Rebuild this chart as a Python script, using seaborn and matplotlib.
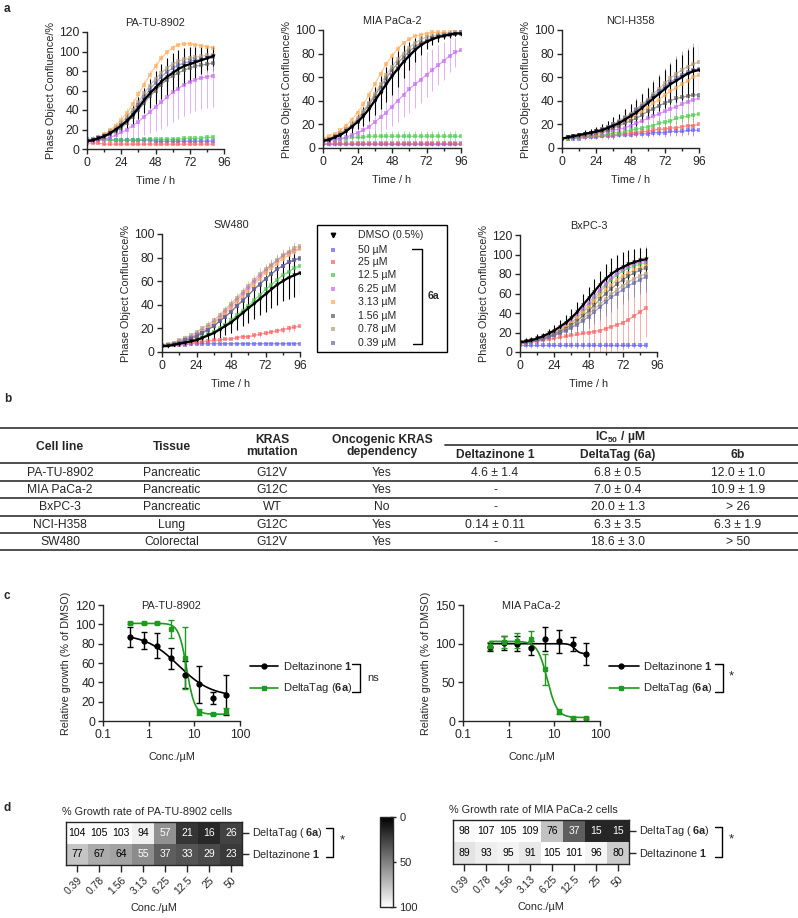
import numpy as np
import pandas as pd
import matplotlib
matplotlib.use("Agg")
import matplotlib.pyplot as plt
from matplotlib.patches import Rectangle
from matplotlib.ticker import MultipleLocator, NullLocator
import seaborn as sns

sns.set_style("ticks")
plt.rcParams['font.family'] = ['Liberation Sans', 'DejaVu Sans']
plt.rcParams['mathtext.fontset'] = 'custom'
plt.rcParams['mathtext.rm'] = 'Liberation Sans'
plt.rcParams['mathtext.bf'] = 'Liberation Sans:bold'
plt.rcParams['mathtext.it'] = 'Liberation Sans:italic'
plt.rcParams['font.size'] = 7.5
plt.rcParams['axes.linewidth'] = 1.0

# ---------------- data: panel a (growth curves) ----------------
series_labels = ["DMSO (0.5%)", "50 µM", "25 µM", "12.5 µM", "6.25 µM",
                 "3.13 µM", "1.56 µM", "0.78 µM", "0.39 µM"]
series_colors = ["black", "#5a5aff", "#ff5a5a", "#46c846", "#c864f0",
                 "#ffa850", "#5a5a5a", "#b49b78", "#6464aa"]

hours_88 = [0, 4, 8, 12, 16, 20, 24, 28, 32, 36, 40, 44, 48, 52, 56, 60, 64, 68, 72, 76, 80, 84, 88]
hours_96 = [0, 4, 8, 12, 16, 20, 24, 28, 32, 36, 40, 44, 48, 52, 56, 60, 64, 68, 72, 76, 80, 84, 88, 92, 96]

# rows follow series_labels order
patu_mean = [
    [8, 9, 11, 13, 16, 20, 24, 29, 35, 42, 50, 57, 63, 69, 74, 78, 82, 85, 87, 89, 91, 93, 95],
    [10, 10, 10, 10, 10, 9, 9, 9, 9, 9, 9, 9, 8, 8, 8, 8, 8, 8, 8, 8, 8, 8, 8],
    [6, 6, 6, 5, 5, 5, 5, 5, 5, 5, 5, 5, 5, 5, 5, 5, 5, 5, 5, 5, 5, 5, 5],
    [9, 9, 9, 9, 9, 9, 9, 9, 9, 9, 10, 10, 10, 10, 10, 10, 10, 11, 11, 11, 11, 12, 12],
    [7, 8, 9, 10, 12, 14, 17, 20, 24, 28, 33, 38, 43, 48, 53, 58, 62, 66, 69, 71, 73, 74, 75],
    [9, 10, 12, 15, 19, 24, 30, 37, 46, 56, 66, 76, 85, 93, 99, 104, 107, 108, 108, 107, 106, 105, 104],
    [8, 9, 10, 12, 15, 18, 22, 27, 33, 40, 47, 54, 60, 66, 71, 75, 78, 81, 83, 85, 86, 87, 88],
    [9, 10, 12, 14, 18, 22, 27, 33, 40, 48, 57, 65, 72, 78, 83, 87, 90, 92, 93, 94, 95, 96, 96],
    [8, 9, 11, 13, 16, 20, 25, 30, 37, 45, 53, 61, 68, 74, 79, 83, 86, 88, 90, 91, 92, 93, 94],
]
patu_sd = [
    [2, 2, 3, 3, 4, 5, 6, 7, 9, 11, 13, 15, 17, 18, 19, 20, 20, 19, 18, 16, 14, 12, 10],
    [3, 3, 3, 3, 3, 3, 3, 3, 3, 3, 3, 3, 3, 3, 3, 3, 3, 3, 3, 3, 3, 3, 3],
    [1, 1, 1, 1, 1, 1, 1, 1, 1, 1, 1, 1, 1, 1, 1, 1, 1, 1, 1, 1, 1, 1, 1],
    [2, 2, 2, 2, 2, 2, 2, 2, 2, 2, 2, 2, 2, 2, 2, 2, 2, 2, 2, 2, 2, 2, 2],
    [2, 2, 3, 4, 5, 7, 9, 11, 13, 16, 19, 22, 25, 27, 29, 30, 31, 32, 32, 32, 32, 32, 32],
    [2, 2, 3, 3, 4, 4, 5, 5, 5, 5, 5, 5, 4, 4, 3, 3, 2, 2, 2, 2, 2, 2, 2],
    [2, 2, 2, 3, 3, 4, 5, 6, 7, 8, 9, 10, 10, 10, 10, 10, 10, 9, 9, 8, 8, 8, 8],
    [2, 2, 2, 3, 3, 3, 4, 4, 5, 5, 5, 5, 5, 5, 4, 4, 4, 3, 3, 3, 3, 3, 3],
    [2, 2, 2, 2, 3, 3, 3, 4, 4, 4, 5, 5, 5, 5, 5, 4, 4, 4, 4, 3, 3, 3, 3],
]

mia_mean = [
    [6, 7, 9, 11, 14, 18, 22, 27, 33, 40, 47, 54, 61, 67, 73, 78, 83, 87, 90, 92, 94, 95, 96, 97, 97],
    [3, 3, 3, 3, 3, 3, 3, 3, 3, 3, 3, 3, 3, 3, 3, 3, 3, 3, 3, 3, 3, 3, 3, 3, 3],
    [4, 4, 4, 4, 4, 4, 4, 4, 4, 4, 4, 4, 4, 4, 4, 4, 4, 4, 4, 4, 4, 4, 4, 4, 4],
    [6, 7, 7, 8, 8, 9, 9, 9, 10, 10, 10, 10, 10, 10, 10, 10, 10, 10, 10, 10, 10, 10, 10, 10, 10],
    [5, 6, 7, 8, 9, 11, 13, 15, 18, 22, 26, 30, 35, 40, 45, 50, 54, 58, 62, 66, 70, 74, 78, 81, 83],
    [8, 10, 12, 15, 19, 24, 30, 37, 45, 54, 63, 71, 78, 84, 89, 92, 95, 96, 97, 98, 98, 98, 98, 98, 98],
    [7, 8, 10, 12, 15, 19, 24, 30, 37, 44, 52, 59, 66, 72, 77, 82, 86, 89, 91, 93, 94, 95, 96, 97, 97],
    [7, 8, 10, 13, 16, 20, 25, 31, 38, 46, 54, 62, 69, 75, 80, 85, 89, 92, 94, 95, 96, 97, 97, 98, 98],
    [6, 7, 9, 11, 14, 18, 22, 27, 34, 41, 48, 55, 62, 68, 74, 79, 84, 88, 91, 93, 95, 96, 97, 97, 98],
]
mia_sd = [
    [1, 1, 2, 3, 4, 5, 6, 8, 10, 12, 14, 15, 16, 15, 14, 12, 10, 8, 6, 5, 4, 3, 3, 2, 2],
    [1, 1, 1, 1, 1, 1, 1, 1, 1, 1, 1, 1, 1, 1, 1, 1, 1, 1, 1, 1, 1, 1, 1, 1, 1],
    [1, 1, 1, 1, 1, 1, 1, 1, 1, 1, 1, 1, 1, 1, 1, 1, 1, 1, 1, 1, 1, 1, 1, 1, 1],
    [2, 2, 3, 3, 3, 3, 4, 4, 4, 4, 4, 4, 4, 4, 4, 4, 4, 4, 4, 4, 4, 4, 4, 4, 4],
    [1, 1, 2, 2, 3, 4, 5, 6, 8, 10, 12, 14, 16, 18, 19, 20, 20, 20, 19, 18, 17, 16, 14, 12, 10],
    [1, 1, 1, 2, 2, 2, 3, 3, 3, 3, 3, 3, 3, 3, 2, 2, 2, 2, 2, 2, 2, 2, 2, 2, 2],
    [1, 1, 1, 2, 2, 3, 3, 4, 5, 6, 7, 8, 8, 8, 7, 6, 5, 4, 3, 3, 3, 2, 2, 2, 2],
    [1, 1, 1, 2, 2, 2, 3, 3, 4, 4, 5, 5, 5, 5, 4, 4, 3, 3, 3, 2, 2, 2, 2, 2, 2],
    [1, 1, 1, 2, 2, 2, 3, 3, 4, 4, 5, 5, 5, 5, 4, 4, 3, 3, 3, 2, 2, 2, 2, 2, 2],
]

nci_mean = [
    [8, 9, 10, 11, 12, 13, 14, 15, 17, 19, 21, 24, 27, 30, 34, 38, 42, 46, 50, 54, 57, 60, 63, 65, 66],
    [8, 8, 8, 8, 9, 9, 9, 10, 10, 10, 11, 11, 11, 12, 12, 12, 13, 13, 13, 14, 14, 14, 15, 15, 15],
    [8, 8, 9, 9, 9, 10, 10, 10, 11, 11, 12, 12, 13, 13, 14, 14, 15, 16, 16, 17, 17, 18, 19, 19, 20],
    [8, 8, 9, 9, 10, 10, 11, 11, 12, 13, 13, 14, 15, 16, 17, 18, 19, 21, 22, 23, 25, 26, 27, 28, 29],
    [8, 9, 9, 10, 10, 11, 12, 13, 14, 15, 16, 17, 19, 21, 23, 25, 27, 29, 31, 33, 35, 37, 39, 41, 42],
    [8, 9, 10, 10, 11, 12, 13, 14, 16, 18, 20, 22, 25, 28, 31, 34, 38, 41, 45, 48, 51, 54, 57, 60, 62],
    [8, 9, 9, 10, 11, 12, 13, 14, 15, 17, 19, 21, 23, 25, 28, 31, 33, 36, 38, 40, 42, 43, 44, 45, 45],
    [8, 9, 10, 11, 12, 13, 14, 16, 18, 20, 23, 26, 29, 33, 37, 41, 46, 50, 55, 59, 63, 66, 69, 71, 73],
    [8, 9, 10, 11, 12, 13, 14, 16, 18, 20, 22, 25, 28, 32, 36, 40, 44, 48, 52, 56, 59, 62, 64, 66, 67],
]
nci_sd = [
    [1, 1, 2, 2, 3, 3, 4, 5, 6, 7, 8, 9, 10, 11, 12, 13, 14, 15, 16, 17, 18, 19, 20, 21, 22],
    [1, 1, 1, 1, 1, 1, 1, 1, 2, 2, 2, 2, 2, 3, 3, 3, 3, 3, 4, 4, 4, 4, 4, 5, 5],
    [1, 1, 1, 1, 2, 2, 2, 2, 3, 3, 3, 3, 4, 4, 4, 5, 5, 5, 6, 6, 6, 7, 7, 8, 8],
    [1, 1, 1, 1, 1, 2, 2, 2, 2, 2, 3, 3, 3, 3, 3, 4, 4, 4, 4, 5, 5, 5, 5, 6, 6],
    [1, 1, 1, 1, 2, 2, 2, 3, 3, 3, 3, 4, 4, 4, 5, 5, 5, 6, 6, 6, 7, 7, 7, 8, 8],
    [1, 1, 1, 2, 2, 2, 3, 3, 4, 4, 5, 5, 6, 7, 7, 8, 9, 10, 10, 11, 12, 12, 13, 13, 14],
    [1, 1, 1, 1, 2, 2, 2, 2, 3, 3, 3, 3, 4, 4, 4, 4, 5, 5, 5, 5, 5, 5, 5, 5, 5],
    [1, 1, 1, 2, 2, 2, 3, 3, 4, 4, 5, 6, 6, 7, 8, 9, 10, 11, 12, 12, 13, 14, 14, 15, 15],
    [1, 1, 2, 2, 2, 3, 3, 4, 5, 6, 7, 8, 9, 10, 11, 12, 14, 15, 16, 17, 19, 20, 21, 23, 24],
]

sw_mean = [
    [5, 5, 6, 7, 8, 9, 10, 12, 14, 16, 19, 22, 25, 29, 33, 37, 41, 45, 49, 53, 57, 60, 63, 65, 67],
    [6, 6, 6, 6, 6, 7, 7, 7, 7, 7, 7, 7, 7, 7, 7, 7, 7, 7, 7, 7, 7, 7, 7, 7, 7],
    [5, 6, 6, 7, 7, 8, 8, 9, 9, 10, 10, 11, 11, 12, 13, 13, 14, 15, 16, 17, 18, 19, 20, 21, 22],
    [5, 6, 7, 8, 9, 10, 11, 13, 15, 17, 20, 23, 27, 31, 35, 39, 44, 48, 53, 57, 61, 65, 68, 71, 73],
    [5, 6, 7, 9, 11, 13, 15, 18, 21, 25, 29, 34, 39, 44, 49, 54, 59, 64, 69, 73, 77, 81, 84, 86, 88],
    [5, 6, 7, 8, 10, 12, 14, 17, 20, 24, 28, 32, 37, 42, 47, 52, 57, 62, 67, 71, 75, 79, 82, 85, 87],
    [5, 6, 7, 8, 10, 11, 13, 16, 19, 22, 26, 30, 34, 39, 43, 48, 53, 57, 62, 66, 70, 73, 76, 78, 80],
    [6, 7, 8, 10, 12, 14, 17, 20, 23, 27, 31, 36, 41, 46, 51, 56, 61, 66, 70, 74, 78, 82, 85, 88, 90],
    [5, 6, 7, 8, 10, 12, 14, 16, 19, 22, 26, 30, 34, 39, 44, 48, 53, 58, 62, 66, 70, 73, 76, 78, 79],
]
sw_sd = [
    [1, 1, 1, 2, 2, 3, 3, 4, 5, 6, 7, 8, 9, 10, 11, 12, 13, 14, 15, 16, 17, 17, 18, 18, 18],
    [1, 1, 1, 1, 1, 1, 1, 1, 1, 1, 1, 1, 1, 1, 1, 1, 1, 1, 1, 1, 1, 1, 1, 1, 1],
    [1, 1, 1, 1, 1, 1, 1, 1, 1, 1, 1, 1, 1, 2, 2, 2, 2, 2, 2, 2, 2, 3, 3, 3, 3],
    [1, 1, 1, 1, 2, 2, 2, 3, 3, 4, 4, 5, 5, 6, 6, 7, 7, 8, 8, 9, 9, 10, 10, 10, 10],
    [1, 1, 1, 1, 2, 2, 2, 2, 3, 3, 3, 3, 4, 4, 4, 4, 4, 5, 5, 5, 5, 5, 5, 5, 5],
    [1, 1, 1, 1, 2, 2, 2, 2, 3, 3, 3, 3, 4, 4, 4, 4, 4, 5, 5, 5, 5, 5, 5, 5, 5],
    [1, 1, 1, 2, 2, 2, 3, 3, 4, 4, 5, 5, 6, 6, 7, 7, 8, 8, 8, 9, 9, 9, 9, 9, 9],
    [1, 1, 1, 1, 2, 2, 2, 2, 3, 3, 3, 3, 4, 4, 4, 4, 4, 5, 5, 5, 5, 5, 5, 5, 5],
    [1, 1, 1, 2, 2, 2, 3, 3, 3, 4, 4, 5, 5, 5, 6, 6, 6, 7, 7, 7, 7, 7, 7, 7, 7],
]

bx_mean = [
    [10, 11, 12, 14, 16, 19, 22, 26, 30, 35, 41, 48, 55, 62, 69, 75, 80, 84, 87, 90, 92, 94, 95],
    [7, 7, 7, 7, 7, 7, 7, 7, 7, 7, 7, 7, 7, 7, 7, 7, 7, 7, 7, 7, 7, 7, 7],
    [8, 9, 10, 11, 12, 13, 14, 15, 16, 17, 18, 19, 20, 21, 22, 24, 26, 28, 30, 33, 37, 41, 45],
    [9, 10, 11, 12, 14, 16, 19, 22, 26, 30, 35, 41, 47, 54, 61, 68, 74, 79, 83, 86, 88, 90, 91],
    [9, 10, 11, 13, 15, 17, 20, 24, 28, 33, 38, 44, 50, 57, 64, 70, 76, 81, 85, 88, 90, 92, 93],
    [9, 10, 11, 12, 14, 16, 19, 22, 26, 30, 35, 40, 46, 52, 58, 64, 69, 74, 78, 81, 84, 86, 88],
    [9, 10, 11, 12, 14, 16, 18, 21, 24, 28, 32, 37, 42, 48, 54, 60, 65, 70, 74, 78, 81, 84, 86],
    [9, 10, 11, 12, 13, 15, 17, 20, 23, 26, 30, 34, 39, 44, 49, 54, 59, 64, 68, 72, 75, 78, 80],
    [9, 10, 11, 12, 13, 15, 17, 19, 22, 25, 28, 32, 36, 41, 46, 51, 56, 60, 64, 68, 71, 74, 77],
]
bx_sd = [
    [3, 3, 3, 4, 4, 5, 6, 7, 8, 9, 10, 11, 12, 13, 14, 15, 16, 16, 16, 15, 14, 13, 12],
    [3, 3, 3, 3, 3, 3, 3, 3, 3, 3, 3, 3, 3, 3, 3, 3, 3, 3, 3, 3, 3, 3, 3],
    [2, 2, 3, 3, 4, 5, 6, 8, 10, 12, 14, 16, 18, 20, 22, 24, 26, 27, 28, 29, 30, 30, 30],
    [2, 2, 2, 3, 3, 4, 5, 6, 7, 8, 9, 10, 11, 12, 13, 14, 15, 16, 17, 18, 18, 18, 18],
    [2, 2, 2, 3, 3, 4, 4, 5, 6, 7, 8, 9, 10, 11, 12, 12, 13, 13, 13, 13, 13, 13, 13],
    [2, 2, 2, 3, 3, 4, 4, 5, 6, 7, 8, 9, 10, 11, 12, 12, 12, 12, 12, 12, 12, 12, 12],
    [2, 2, 2, 3, 3, 4, 4, 5, 6, 7, 8, 9, 10, 11, 12, 12, 12, 12, 12, 12, 12, 12, 12],
    [2, 2, 2, 3, 3, 4, 5, 6, 7, 8, 9, 10, 11, 12, 13, 14, 15, 15, 15, 15, 15, 15, 15],
    [2, 2, 2, 3, 3, 4, 5, 6, 7, 8, 9, 10, 11, 12, 13, 14, 15, 15, 15, 15, 15, 15, 15],
]

# ---------------- data: panel b (table) ----------------
cell_lines = ["PA-TU-8902", "MIA PaCa-2", "BxPC-3", "NCI-H358", "SW480"]
tissues = ["Pancreatic", "Pancreatic", "Pancreatic", "Lung", "Colorectal"]
mutations = ["G12V", "G12C", "WT", "G12C", "G12V"]
dependency = ["Yes", "Yes", "No", "Yes", "Yes"]
ic50_dz = ["4.6 ± 1.4", "-", "-", "0.14 ± 0.11", "-"]
ic50_6a = ["6.8 ± 0.5", "7.0 ± 0.4", "20.0 ± 1.3", "6.3 ± 3.5", "18.6 ± 3.0"]
ic50_6b = ["12.0 ± 1.0", "10.9 ± 1.9", "> 26", "6.3 ± 1.9", "> 50"]

# ---------------- data: panel c (dose response) ----------------
conc = [0.39, 0.78, 1.56, 3.13, 6.25, 12.5, 25, 50]
patu_dz = [87, 83, 78, 65, 48, 38, 24, 27]
patu_dz_sd = [10, 9, 13, 11, 14, 19, 6, 21]
patu_6a = [101, 101, 101, 95, 65, 9, 7, 10]
patu_6a_sd = [1, 1, 1, 9, 32, 3, 1, 3]
mia_dz = [96, 101, 100, 94, 106, 103, 99, 87]
mia_dz_sd = [5, 9, 10, 9, 15, 15, 9, 14]
mia_6a = [97, 102, 104, 106, 67, 12, 4, 4]
mia_6a_sd = [5, 8, 10, 10, 20, 3, 1, 1]
# fitted 4PL parameters: top, bottom, IC50, hill
patu_dz_fit = [90, 25, 4.5, 1.2]
patu_6a_fit = [101, 7, 6.8, 5.0]
mia_dz_fit = [100, 87, 28, 8.0]
mia_6a_fit = [103, 4.5, 7.0, 4.0]

# ---------------- data: panel d (heatmaps) ----------------
conc_labels = ["0.39", "0.78", "1.56", "3.13", "6.25", "12.5", "25", "50"]
row_labels = ["DeltaTag ( $\\bf{6a}$)", "Deltazinone $\\bf{1}$"]
patu_heat = [[104, 105, 103, 94, 57, 21, 16, 26],
             [77, 67, 64, 55, 37, 33, 29, 23]]
mia_heat = [[98, 107, 105, 109, 76, 37, 15, 15],
            [89, 93, 95, 91, 105, 101, 96, 80]]

# ---------------- layout ----------------
W, H = 798, 918
fig = plt.figure(figsize=(W / 100, H / 100), dpi=100)
TICK_FS = 8.7
LAB_FS = 7.8


def px_axes(l, t, r, b):
    return fig.add_axes([l / W, 1 - b / H, (r - l) / W, (b - t) / H])


def style_axes(ax):
    sns.despine(ax=ax)
    ax.tick_params(which='major', length=3.5, width=1.0, labelsize=TICK_FS, pad=2)
    ax.tick_params(which='minor', length=2.2, width=1.0)


def growth_panel(ax, hours, means, sds, title, ymax):
    for i in range(1, 9):
        ax.errorbar(hours, means[i], yerr=sds[i], fmt='-s', color=series_colors[i],
                    ms=2.8, mew=0, lw=0.9, elinewidth=0.6, capsize=1.6,
                    capthick=0.6, alpha=0.6)
    ax.errorbar(hours, means[0], yerr=sds[0], fmt='-v', color='black', ms=3,
                mew=0, lw=1.6, elinewidth=0.8, capsize=1.8, capthick=0.8)
    ax.set_xlim(0, 96)
    ax.set_ylim(0, ymax)
    ax.set_xticks([0, 24, 48, 72, 96])
    ax.xaxis.set_minor_locator(MultipleLocator(12))
    ax.yaxis.set_major_locator(MultipleLocator(20))
    ax.set_xlabel("Time / h", fontsize=LAB_FS, labelpad=5)
    ax.set_ylabel("Phase Object Confluence/%", fontsize=LAB_FS, labelpad=2)
    ax.set_title(title, fontsize=7.8, pad=4)
    style_axes(ax)


growth_panel(px_axes(87, 32, 224, 149), hours_88, patu_mean, patu_sd, "PA-TU-8902", 120)
growth_panel(px_axes(323, 30, 461, 148), hours_96, mia_mean, mia_sd, "MIA PaCa-2", 100)
growth_panel(px_axes(562, 30, 699, 148), hours_96, nci_mean, nci_sd, "NCI-H358", 100)
growth_panel(px_axes(162, 234, 300, 352), hours_96, sw_mean, sw_sd, "SW480", 100)
growth_panel(px_axes(520, 235, 657, 352), hours_88, bx_mean, bx_sd, "BxPC-3", 120)


# ---------------- panel c ----------------
def logistic(x, p):
    top, bottom, ic50, hill = p
    return bottom + (top - bottom) / (1 + (x / ic50) ** hill)


def dose_panel(ax, dz, dz_sd, d6a, d6a_sd, fit_dz, fit_6a, title, ymax, ystep):
    xs = np.logspace(np.log10(conc[0]), np.log10(conc[-1]), 200)
    ax.plot(xs, logistic(xs, fit_dz), color='black', lw=1.2)
    ax.plot(xs, logistic(xs, fit_6a), color='#1e9a1e', lw=1.2)
    ax.errorbar(conc, dz, yerr=dz_sd, fmt='o', color='black', ms=3.5,
                elinewidth=1.0, capsize=2.2, capthick=1.0)
    ax.errorbar(conc, d6a, yerr=d6a_sd, fmt='s', color='#1e9a1e', ms=3.5,
                elinewidth=1.0, capsize=2.2, capthick=1.0)
    ax.set_xscale('log')
    ax.set_xlim(0.1, 100)
    ax.set_xticks([0.1, 1, 10, 100])
    ax.set_xticklabels(["0.1", "1", "10", "100"])
    ax.xaxis.set_minor_locator(NullLocator())
    ax.set_ylim(0, ymax)
    ax.yaxis.set_major_locator(MultipleLocator(ystep))
    ax.set_xlabel("Conc./µM", fontsize=LAB_FS, labelpad=8)
    ax.set_ylabel("Relative growth (% of DMSO)", fontsize=LAB_FS, labelpad=3)
    ax.text(0.5, 0.99, title, transform=ax.transAxes, ha='center', va='center', fontsize=7.8)
    style_axes(ax)


dose_panel(px_axes(103, 605, 240, 721), patu_dz, patu_dz_sd, patu_6a, patu_6a_sd,
           patu_dz_fit, patu_6a_fit, "PA-TU-8902", 120, 20)
dose_panel(px_axes(463, 605, 600, 721), mia_dz, mia_dz_sd, mia_6a, mia_6a_sd,
           mia_dz_fit, mia_6a_fit, "MIA PaCa-2", 150, 50)


# ---------------- panel d ----------------
def heat_panel(ax, values, title):
    df = pd.DataFrame(values, index=row_labels, columns=conc_labels)
    sns.heatmap(df, ax=ax, cmap='gray', vmin=0, vmax=100, cbar=False,
                annot=True, fmt='d', annot_kws={'size': 7.5})
    flat = [v for row in values for v in row]
    for txt, v in zip(ax.texts, flat):
        txt.set_color('white' if v < 60 else 'black')
    for sp in ax.spines.values():
        sp.set_visible(True)
        sp.set_linewidth(1.0)
    ax.yaxis.tick_right()
    ax.tick_params(axis='y', right=True, left=False, length=5, width=1.0,
                   labelright=True, labelleft=False, labelsize=7.8, pad=2)
    ax.set_yticklabels(row_labels, rotation=0, va='center')
    ax.tick_params(axis='x', bottom=True, length=5, width=1.0, labelsize=7.5, pad=2)
    ax.set_xticklabels(conc_labels, rotation=45, ha='right', rotation_mode='anchor')
    ax.set_xlabel("Conc./µM", fontsize=LAB_FS, labelpad=5)
    ax.set_ylabel("")
    ax.set_title(title, loc='left', fontsize=7.8, pad=5, x=-0.02)
    return ax.collections[0]


mesh = heat_panel(px_axes(66, 822, 242, 865), patu_heat, "% Growth rate of PA-TU-8902 cells")
heat_panel(px_axes(453, 820, 629, 864), mia_heat, "% Growth rate of MIA PaCa-2 cells")

cax = px_axes(380, 817, 393, 907)
cb = fig.colorbar(mesh, cax=cax, ticks=[0, 50, 100])
cax.invert_yaxis()
cb.outline.set_linewidth(1.0)
cax.tick_params(direction='inout', length=5, width=1.0, labelsize=8, pad=2)

# ---------------- overlay: labels, table, legends, brackets ----------------
ov = fig.add_axes([0, 0, 1, 1])
ov.set_xlim(0, W)
ov.set_ylim(H, 0)
ov.axis('off')

for lab, (x, y) in zip(["a", "b", "c", "d"], [(4, 9), (4, 399), (4, 596), (4, 808)]):
    ov.text(x, y, lab, fontsize=8.5, fontweight='bold', ha='left', va='center')

# legend panel a
ov.add_patch(Rectangle((317, 225), 130, 127, fill=False, ec='black', lw=1.0))
legend_rows = [235, 250, 262, 275, 289, 302, 316, 329, 343]
for i, (lab, yy) in enumerate(zip(series_labels, legend_rows)):
    if i == 0:
        ov.plot(333, yy, 'v', color='black', ms=3.2)
    else:
        ov.plot(333, yy, 's', color=series_colors[i], ms=3.2, mew=0, alpha=0.7)
    ov.text(358, yy, lab, fontsize=7.6, va='center', ha='left')
ov.plot([412, 422, 422, 413], [249, 249, 344, 344], color='black', lw=1.0)
ov.text(428, 296, "6a", fontsize=7.6, fontweight='bold', va='center', ha='left')

# table panel b
TAB_FS = 8.7
line_kw = dict(color='#404040', lw=1.3)
ov.plot([0, 798], [428, 428], **line_kw)
ov.plot([445, 798], [445, 445], **line_kw)
for yy in [463, 481, 498, 516, 533, 550]:
    ov.plot([0, 798], [yy, yy], **line_kw)
col_x = [60, 172, 272, 382, 495, 618, 738]
hdr_kw = dict(fontsize=TAB_FS, fontweight='bold', ha='center', va='center')
ov.text(col_x[0], 447, "Cell line", **hdr_kw)
ov.text(col_x[1], 447, "Tissue", **hdr_kw)
ov.text(col_x[2], 446, "KRAS\nmutation", linespacing=1.05, **hdr_kw)
ov.text(col_x[3], 446, "Oncogenic KRAS\ndependency", linespacing=1.05, **hdr_kw)
ov.text(620, 437, "IC$_{\\mathbf{50}}$ / µM", **hdr_kw)
ov.text(col_x[4], 455, "Deltazinone 1", **hdr_kw)
ov.text(col_x[5], 455, "DeltaTag (6a)", **hdr_kw)
ov.text(col_x[6], 455, "6b", **hdr_kw)
row_y = [473, 490, 507, 525, 542]
columns = [cell_lines, tissues, mutations, dependency, ic50_dz, ic50_6a, ic50_6b]
for cx, col in zip(col_x, columns):
    for ry, val in zip(row_y, col):
        ov.text(cx, ry, val, fontsize=TAB_FS, ha='center', va='center')

# legends panel c
for x0, x1, xm, xt in [(250, 278, 264, 283), (609, 639, 621, 643)]:
    ov.plot([x0, x1], [666, 666], color='black', lw=1.2)
    ov.plot(xm, 666, 'o', color='black', ms=3.5)
    ov.text(xt, 666, "Deltazinone $\\bf{1}$", fontsize=8, va='center')
    ov.plot([x0, x1], [688, 688], color='#1e9a1e', lw=1.2)
    ov.plot(xm, 688, 's', color='#1e9a1e', ms=3.5)
    ov.text(xt, 688, "DeltaTag ($\\bf{6a}$)", fontsize=8, va='center')
ov.plot([352, 360, 360, 352], [664, 664, 692, 692], color='black', lw=1.0)
ov.text(367, 678, "ns", fontsize=8, va='center', ha='left')
ov.plot([715, 723, 723, 715], [664, 664, 692, 692], color='black', lw=1.0)
ov.text(729, 676, "*", fontsize=9.5, va='center', ha='left')

# brackets panel d
ov.plot([326, 333, 333, 326], [828, 828, 857, 857], color='black', lw=1.0)
ov.text(340, 840, "*", fontsize=9.5, va='center', ha='left')
ov.plot([715, 722, 722, 715], [827, 827, 857, 857], color='black', lw=1.0)
ov.text(729, 839, "*", fontsize=9.5, va='center', ha='left')

fig.savefig("out.png", dpi=100)
